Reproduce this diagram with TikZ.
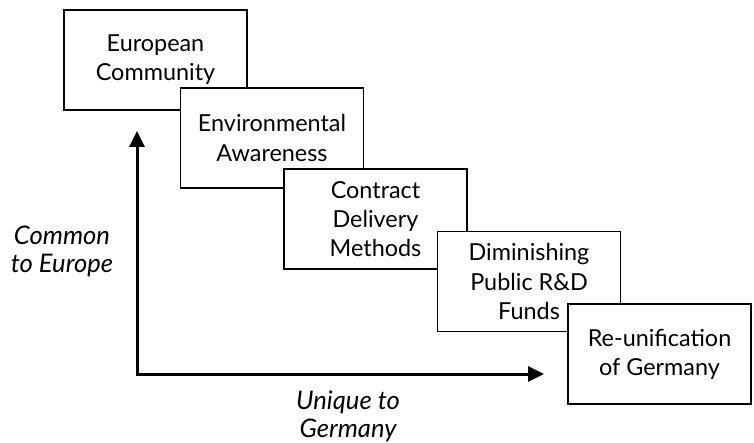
\documentclass[tikz,border=0pt]{standalone}
\usepackage{fontspec}
\setmainfont{Lato}
\usepackage{tikz}
\usetikzlibrary{arrows.meta,positioning}

\begin{document}
\begin{tikzpicture}[
    x=0.5pt, y=-0.5pt,
    every node/.style={font=\fontsize{11.7}{14.6}\selectfont},
    factor/.style={draw, rectangle, fill=white, line width=0.6pt,
                   minimum width=91.5pt, minimum height=50pt,
                   inner sep=0pt, align=center},
    axis/.style={{Triangle[length=8pt,width=7.5pt]}-{Triangle[length=8pt,width=7.5pt]},
                 line width=1.5pt},
    axlabel/.style={font=\fontsize{12.8}{14}\selectfont\itshape, align=center},
]
\useasboundingbox (0,0) rectangle (754,443);

%% Factors, drawn in order so each one overlaps the one before
\node[factor] (eurocomm) at (155.5,60)  {European\\Community};
\node[factor] (envaware) at (272,138)   {Environmental\\Awareness};
\node[factor] (contract) at (375.5,219) {Contract\\Delivery\\Methods};
\node[factor] (rdfunds)  at (529,281.5) {Diminishing\\Public R\&D\\Funds};
\node[factor] (reunif)   at (659.5,354) {Re-unification\\of Germany};

%% Axes
\coordinate (corner) at (137,374);
\coordinate (ytip)   at (137,131);
\coordinate (xtip)   at (544,374);
\draw[axis] (ytip) -- (corner) -- (xtip);

%% Axis labels
\node[axlabel] (common) at (62,251)  {Common\\to Europe};
\node[axlabel] (unique) at (348,416) {Unique to\\Germany};

\end{tikzpicture}
\end{document}
